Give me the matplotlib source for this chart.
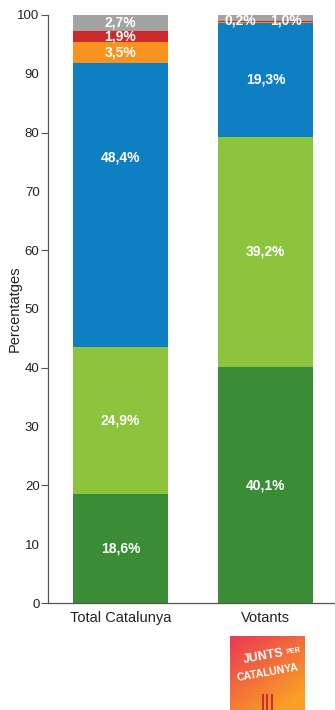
import matplotlib
matplotlib.use("Agg")
import matplotlib.pyplot as plt
import numpy as np
from matplotlib.font_manager import fontManager

names = {f.name for f in fontManager.ttflist}
fam = ['Liberation Sans Narrow'] if 'Liberation Sans Narrow' in names else ['Liberation Sans']
plt.rcParams['font.family'] = fam + ['DejaVu Sans']

categories = ["Total Catalunya", "Votants"]
segment_names = ["s1", "s2", "s3", "s4", "s5", "s6"]
total_vals = [18.6, 24.9, 48.4, 3.5, 1.9, 2.7]
votants_vals = [40.1, 39.2, 19.3, 0.2, 0.2, 1.0]
total_labels = ["18,6%", "24,9%", "48,4%", "3,5%", "1,9%", "2,7%"]
votants_labels = ["40,1%", "39,2%", "19,3%", "0,2%", "", "1,0%"]
yticks = [0, 10, 20, 30, 40, 50, 60, 70, 80, 90, 100]

colors = ["#3a8d35", "#8cc43e", "#0f7fc3", "#f7931e", "#cc2a2a", "#a3a3a3"]

fig = plt.figure(figsize=(3.35, 7.1), dpi=100)
ax = fig.add_axes([0.143, 0.1507, 0.857, 0.8283])

x = np.arange(len(categories))
width = 0.66
data = np.array([total_vals, votants_vals])
labels = [total_labels, votants_labels]
bottom = np.zeros(len(categories))
label_dy = {(0, 2): 8.0}
label_dx = {(1, 3): -0.17, (1, 5): 0.14}
for j in range(len(segment_names)):
    vals = data[:, j]
    ax.bar(x, vals, width, bottom=bottom, color=colors[j], edgecolor='none')
    for i in range(len(categories)):
        lab = labels[i][j]
        if lab:
            yc = bottom[i] + vals[i] / 2 + label_dy.get((i, j), 0)
            if i == 1 and j >= 3:
                yc = 99.1
            ax.text(x[i] + label_dx.get((i, j), 0), yc, lab, ha='center', va='center',
                    color='white', fontweight='bold', fontsize=10)
    bottom = bottom + vals

ax.set_xlim(-0.5, 1.48)
ax.set_ylim(0, 100)
ax.yaxis.set_remove_overlapping_locs(False)
ax.set_yticks([0, 20, 40, 60, 80, 100])
ax.set_yticks(yticks, minor=True)
ax.set_yticklabels([str(t) for t in yticks], minor=True)
ax.tick_params(axis='y', which='major', length=5, color='#555555', labelleft=False)
ax.tick_params(axis='y', which='minor', length=0, labelsize=9.5, pad=6, labelcolor='#222222')
ax.set_xticks(x)
ax.set_xticklabels(categories, fontsize=10.5, color='#222222')
ax.tick_params(axis='x', length=0, pad=6)
for s in ['top', 'right']:
    ax.spines[s].set_visible(False)
for s in ['left', 'bottom']:
    ax.spines[s].set_color('#555555')
    ax.spines[s].set_linewidth(0.9)
ax.set_ylabel("Percentatges", fontsize=10.5, color='#222222')
ax.yaxis.set_label_coords(-0.115, 0.5)
ax.yaxis.label.set_va('center')

# logo
lax = fig.add_axes([230 / 335, 0, 75 / 335, 74 / 710])
gx, gy = np.meshgrid(np.linspace(0, 1, 50), np.linspace(0, 1, 50))
t = np.clip((gx * 0.6 + gy * 0.8) / 1.2, 0, 1)
c0 = np.array([0.92, 0.22, 0.32])
c1 = np.array([0.98, 0.62, 0.15])
img = c0[None, None, :] * (1 - t[..., None]) + c1[None, None, :] * t[..., None]
lax.imshow(img, extent=[0, 1, 0, 1], origin='upper', aspect='auto')
for xs in [0.42, 0.48, 0.54]:
    lax.add_patch(plt.Rectangle((xs, 0), 0.03, 0.22, color='#d02a3a', lw=0))
lax.text(0.45, 0.72, "JUNTS", color='white', fontsize=9, fontweight='bold',
         ha='center', va='center', rotation=10)
lax.text(0.85, 0.79, "PER", color='white', fontsize=5, fontweight='bold',
         ha='center', va='center', rotation=10)
lax.text(0.5, 0.50, "CATALUNYA", color='white', fontsize=7.5, fontweight='bold',
         ha='center', va='center', rotation=10)
lax.set_xlim(0, 1)
lax.set_ylim(0, 1)
lax.axis('off')

fig.savefig("out.png", dpi=100)
